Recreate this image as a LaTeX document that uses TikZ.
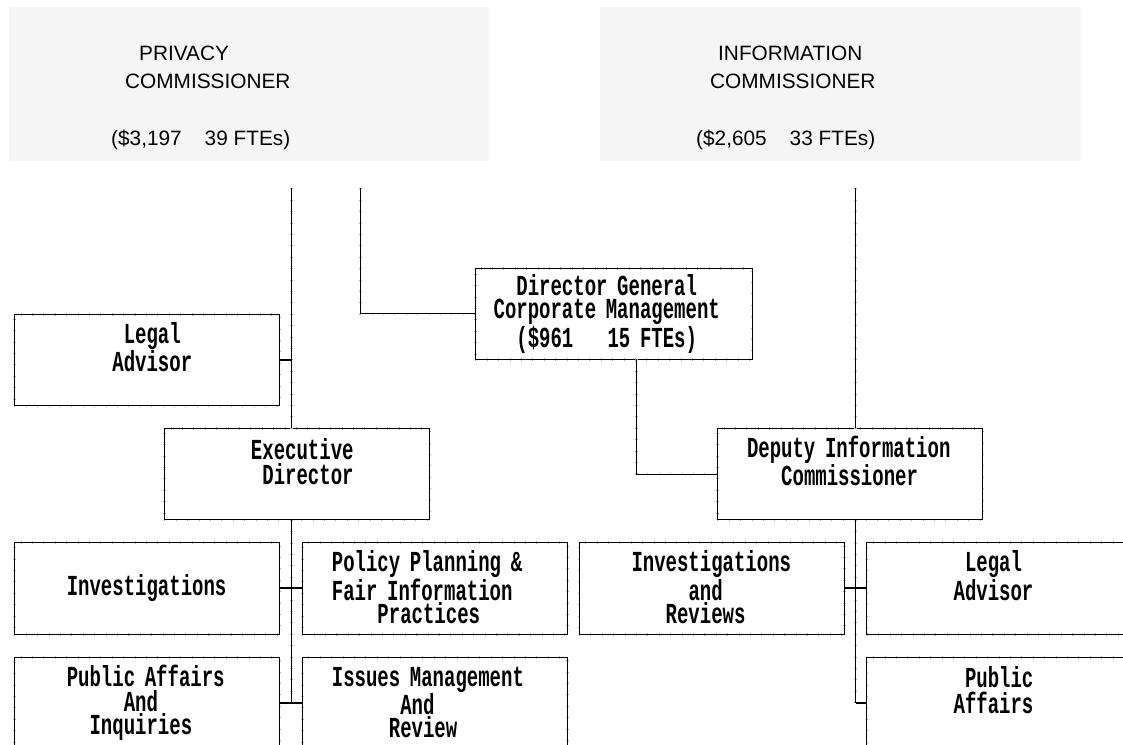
\documentclass[tikz,border=0pt]{standalone}
\usepackage{fontspec}
\usetikzlibrary{positioning, calc}
\newfontfamily\topfont{Liberation Sans}
\newfontfamily\boxfont{Liberation Mono}[FakeStretch=0.655]
\definecolor{panel}{HTML}{F5F5F5}
\definecolor{ruling}{HTML}{A8A8A8}
% indent by n monospaced characters
\newcommand\ind[1]{\hspace*{#1\fontcharwd\font`\x}}
\newcommand\rowstrut{\rule[-2.85pt]{0pt}{23pt}}

\begin{document}
\begin{tikzpicture}[
  x=1pt, y=-1pt,
  panel/.style={fill=panel, minimum width=480pt, minimum height=154pt,
                inner sep=0pt, outer sep=0pt, anchor=north west},
  paneltext/.style={font=\topfont\fontsize{20.8}{28.3}\selectfont,
                    align=left, inner sep=0pt, anchor=north west},
  ticked/.style={preaction={draw=ruling, line width=2.6pt,
                 dash pattern=on 0.7pt off 10.7pt}},
  unit/.style={draw=black, line width=1pt, ticked, minimum width=265.5pt,
               minimum height=91.5pt, text width=251.7pt, inner xsep=6.9pt,
               inner ysep=0pt, outer sep=0pt, align=left, anchor=north west,
               font=\boxfont\bfseries\fontsize{29}{23}\selectfont,
               execute at begin node=\rowstrut, execute at end node=\rowstrut},
  bus/.style={draw=black, line width=1pt, ticked},
  stub/.style={draw=black, line width=2pt}
]
  \useasboundingbox (0,0) rectangle (1123,744);
  \clip (0,0) rectangle (1123,744);

  % Commissioners
  \node[panel] (privacy) at (9,7) {};
  \node[panel, minimum width=481pt, right=111pt of privacy] (info) {};
  \node[paneltext] (privacytext) at ($(privacy.north west)+(102,33.2)$)
    {\strut\hspace*{28pt}PRIVACY\\\hspace*{14pt}COMMISSIONER\\[28.3pt](\$3,197\hspace{23pt}39 FTEs)};
  \node[paneltext] (infotext) at ($(info.north west)+(96,33.2)$)
    {\strut\hspace*{22pt}INFORMATION\\\hspace*{14pt}COMMISSIONER\\[28.3pt](\$2,605\hspace{23pt}33 FTEs)};

  % Upper units
  \node[unit] (legall) at (14.3,314.3) {\ind{9}Legal\\\ind{8}Advisor\\};
  \node[unit, minimum width=276.7pt, text width=262.9pt, minimum height=91pt] (dg) at (475.3,268.3)
    {\ind{3}Director General\\\ind{1}Corporate Management\\\ind{3}(\$961\ind{3}15 FTEs)};
  \node[unit] (exec) at (164.3,428.3) {\ind{7}Executive\\\ind{8}Director\\};
  \node[unit] (deputy) at (717.3,428.3) {\ind{2}Deputy Information\\\ind{5}Commissioner\\};

  % Lower units
  \node[unit] (invl) at (14.3,542.7) {\\\ind{4}Investigations\\};
  \node[unit, right=22.4pt of invl] (policy)
    {\ind{2}Policy Planning \&\\\ind{2}Fair Information\\\ind{6}Practices};
  \node[unit, below=23pt of invl] (publicl)
    {\ind{4}Public Affairs\\\ind{9}And\\\ind{6}Inquiries};
  \node[unit, below=23pt of policy] (issues)
    {\ind{2}Issues Management\\\ind{8}And\\\ind{7}Review};
  \node[unit, right=11.3pt of policy] (invrev)
    {\ind{4}Investigations\\\ind{9}and\\\ind{7}Reviews};
  \node[unit, right=22.4pt of invrev] (legalr) {\ind{8}Legal\\\ind{7}Advisor\\};
  \node[unit, below=23pt of legalr] (publicr) {\ind{8}Public\\\ind{7}Affairs\\};

  % Feeds from the commissioners
  \coordinate (privacyfeed) at (291.3,188.3);
  \coordinate (dgfeed) at (360.3,188.3);
  \coordinate (infofeed) at (855.7,188.3);

  \draw[bus] (privacyfeed) -- (privacyfeed |- exec.north);
  \draw[bus] (dgfeed) |- (dg.west);
  \draw[bus] (infofeed) -- (infofeed |- deputy.north);
  \draw[stub] (legall.east) -- (legall.east -| privacyfeed);
  \draw[bus] ([xshift=161.4pt]dg.south west) |- (deputy.west);

  % Privacy branch
  \draw[bus] (privacyfeed |- exec.south) -- (privacyfeed |- publicl.east);
  \draw[stub] (invl.east) -- (policy.west);
  \draw[stub] (publicl.east) -- (issues.west);

  % Information branch
  \draw[bus] (infofeed |- deputy.south) -- (infofeed |- publicr.west);
  \draw[stub] (invrev.east) -- (legalr.west);
  \draw[stub] (publicr.west) -- (publicr.west -| infofeed);
\end{tikzpicture}
\end{document}
